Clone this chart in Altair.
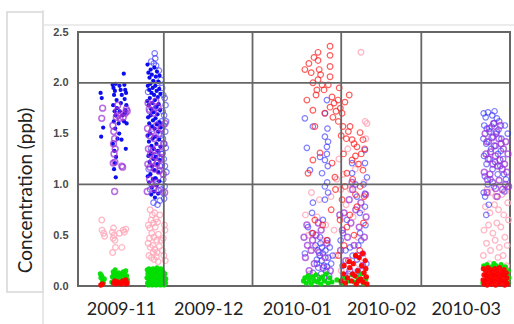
import altair as alt
import pandas as pd

# Sampling campaigns, Nov 2009 - Mar 2010; (day since 2009-11-01, concentration in ppb)
START = pd.Timestamp("2009-11-01")

blue_dot = [
    # early November
    (7.9, 1.90), (8.3, 1.85), (8.8, 1.56), (8.1, 1.47),
    (12.1, 1.98), (12.4, 1.95), (12.6, 1.88), (12.9, 1.92), (13.2, 1.99), (13.5, 1.83),
    (12.3, 1.78), (12.8, 1.72), (13.1, 1.68), (13.6, 1.75), (12.5, 1.62), (13.0, 1.55),
    (12.2, 1.40), (12.7, 1.33), (13.3, 1.27), (12.9, 1.21), (12.6, 1.15), (13.2, 1.07),
    (13.8, 1.45), (14.2, 1.60), (14.5, 1.97), (14.9, 1.93), (15.3, 1.88), (15.0, 1.80),
    (14.6, 1.72), (15.5, 1.68), (14.4, 1.50), (15.2, 1.44), (16.0, 2.09), (16.2, 1.98),
    (16.5, 1.93), (16.8, 1.90), (16.3, 1.84), (16.9, 1.78), (16.6, 1.73), (16.1, 1.62),
    (17.0, 1.60), (16.7, 1.35), (16.4, 1.70),
    # late November
    (24.3, 2.18), (24.6, 2.10), (25.0, 2.05), (25.4, 2.13), (25.8, 2.08), (26.3, 2.02),
    (26.7, 2.15), (27.2, 2.06), (27.6, 2.11), (28.1, 2.01), (28.5, 2.07), (24.4, 1.97),
    (24.9, 1.93), (25.3, 1.99), (25.7, 1.90), (26.1, 1.95), (26.6, 1.88), (27.0, 1.97),
    (27.5, 1.92), (27.9, 1.86), (28.4, 1.94), (28.8, 1.89), (24.2, 1.82), (24.7, 1.78),
    (25.1, 1.85), (25.6, 1.74), (26.0, 1.80), (26.4, 1.71), (26.9, 1.83), (27.3, 1.76),
    (27.8, 1.69), (28.2, 1.79), (28.7, 1.73), (24.5, 1.66), (24.9, 1.60), (25.4, 1.68),
    (25.9, 1.57), (26.2, 1.63), (26.8, 1.55), (27.1, 1.65), (27.6, 1.59), (28.0, 1.52),
    (28.5, 1.61), (28.9, 1.56), (24.3, 1.48), (24.8, 1.42), (25.2, 1.50), (25.7, 1.38),
    (26.1, 1.45), (26.5, 1.35), (27.0, 1.47), (27.4, 1.40), (27.9, 1.33), (28.3, 1.44),
    (28.8, 1.37), (24.6, 1.28), (25.0, 1.22), (25.5, 1.30), (25.9, 1.18), (26.3, 1.25),
    (26.7, 1.14), (27.2, 1.27), (27.7, 1.20), (28.1, 1.12), (28.6, 1.24), (24.4, 1.08),
    (24.9, 1.02), (25.3, 1.10), (25.8, 0.97), (26.2, 1.05), (26.6, 0.93), (27.1, 1.06),
    (27.5, 0.99), (28.0, 0.91), (28.4, 1.03), (26.9, 0.87), (25.6, 0.90),
]

blue_ring = [
    # late November
    (26.8, 2.29), (27.0, 2.24), (26.5, 2.19), (27.3, 2.17), (25.6, 2.21), (28.3, 2.12),
    (29.4, 1.95), (29.8, 1.88), (30.3, 1.85), (30.6, 1.78), (29.6, 1.72), (30.1, 1.68),
    (30.8, 1.62), (29.9, 1.58), (30.5, 1.52), (29.7, 1.45), (30.2, 1.40), (30.7, 1.36),
    (29.5, 1.30), (30.0, 1.25), (30.4, 1.18), (30.9, 1.12), (29.8, 1.05), (30.3, 0.98),
    (29.6, 0.92), (30.1, 0.86), (28.6, 0.84), (27.8, 0.80), (26.4, 0.82), (25.2, 0.95),
    (24.7, 1.15), (25.5, 1.35), (26.0, 1.55), (27.4, 1.75), (28.2, 1.60), (28.9, 1.48),
    (27.6, 1.28), (26.9, 1.05), (28.7, 1.18), (29.2, 1.62), (29.0, 2.03), (27.9, 2.00),
    (25.0, 1.72), (24.5, 1.91), (29.3, 1.30), (29.1, 0.95),
    # January - February
    (79.3, 1.65), (82.1, 1.57), (87.0, 1.83), (86.3, 1.70), (86.3, 1.47), (87.0, 1.37),
    (86.3, 1.24), (80.0, 1.36), (81.1, 1.14), (84.6, 1.27), (85.3, 1.11), (86.3, 0.98),
    (86.3, 0.85), (82.1, 0.82), (81.8, 0.72), (80.4, 0.58), (82.1, 0.52), (85.6, 0.65),
    (84.6, 0.48), (79.3, 0.32), (83.5, 0.26), (85.6, 0.32), (87.0, 0.19), (82.1, 0.13),
    (85.3, 0.38), (95.8, 1.21), (95.8, 1.11), (100.3, 1.34), (100.3, 1.21), (101.0, 1.07),
    (100.3, 0.91), (100.3, 0.78), (94.0, 0.65), (92.6, 0.52), (95.1, 0.38), (98.6, 0.52),
    (99.6, 0.32), (97.5, 0.26), (83.0, 0.40), (83.8, 0.35), (84.5, 0.30), (85.2, 0.25),
    (86.0, 0.20), (86.8, 0.15), (87.5, 0.28), (84.0, 0.18), (85.0, 0.12), (86.5, 0.35),
    (83.5, 0.22), (84.8, 0.42), (86.2, 0.08), (87.8, 0.10), (88.5, 0.22), (88.0, 0.38),
    (87.2, 0.45), (89.0, 0.30), (87.2, 1.55), (87.4, 1.42), (87.0, 1.30), (87.3, 1.18),
    (87.1, 1.02), (87.4, 0.92), (97.0, 1.00), (97.5, 0.88), (99.8, 1.00), (98.5, 0.72),
    (99.0, 0.45), (100.5, 0.60), (96.0, 0.30), (97.8, 0.15), (92.5, 0.20), (93.5, 0.35),
    (94.5, 0.12), (91.8, 0.45), (100.8, 0.22), (98.0, 0.40),
    # late March
    (141.8, 1.70), (142.5, 1.66), (143.3, 1.71), (144.8, 1.68), (145.6, 1.72), (146.4, 1.65),
    (147.2, 1.62), (142.0, 1.58), (142.9, 1.55), (143.8, 1.52), (144.6, 1.57), (145.4, 1.60),
    (146.2, 1.50), (147.0, 1.54), (148.0, 1.45), (141.7, 1.45), (142.7, 1.40), (143.6, 1.42),
    (144.4, 1.35), (145.1, 1.47), (146.0, 1.38), (146.8, 1.30), (147.8, 1.33), (149.2, 1.58),
    (141.9, 1.28), (142.8, 1.20), (143.9, 1.25), (144.9, 1.15), (145.8, 1.22), (146.7, 1.10),
    (147.6, 1.18), (148.6, 1.25), (149.6, 1.05), (142.2, 1.08), (143.2, 1.00), (144.2, 1.05),
    (145.4, 0.98), (141.8, 0.92), (143.6, 0.80), (142.7, 0.70), (142.3, 0.88), (149.0, 0.93),
    (150.2, 1.50), (148.9, 1.10),
]

purple_ring = [
    # early November
    (8.3, 1.65), (8.6, 1.75), (12.2, 1.58), (12.5, 1.52), (12.8, 1.45), (12.4, 1.40),
    (13.0, 1.35), (12.6, 1.30), (13.4, 1.66), (13.7, 1.72), (14.0, 1.68), (12.9, 1.22),
    (12.3, 1.21), (12.8, 0.93), (15.6, 1.17), (15.3, 1.18), (16.5, 1.70), (16.9, 1.74),
    (17.2, 1.72), (14.7, 1.65), (13.9, 1.78), (15.8, 1.66),
    # late November
    (24.5, 1.80), (24.9, 1.74), (25.6, 1.78), (26.4, 1.70), (27.2, 1.82), (28.0, 1.76),
    (24.3, 1.55), (25.1, 1.48), (25.8, 1.52), (26.7, 1.45), (27.5, 1.58), (28.3, 1.50),
    (29.1, 1.55), (24.6, 1.35), (25.4, 1.30), (26.1, 1.33), (26.9, 1.28), (27.7, 1.36),
    (28.6, 1.26), (29.4, 1.32), (24.4, 1.20), (25.2, 1.17), (26.0, 1.23), (26.8, 1.15),
    (27.6, 1.21), (28.4, 1.13), (29.2, 1.19), (25.0, 1.05), (25.9, 1.00), (26.6, 0.96),
    (27.3, 1.02), (28.1, 0.94), (29.8, 1.10), (30.3, 0.92), (29.9, 1.40), (30.4, 1.60),
    (24.2, 0.93),
    # January - February
    (79.0, 0.48), (79.5, 0.28), (80.2, 0.40), (80.8, 0.15), (81.5, 0.35), (82.0, 0.45),
    (82.6, 0.22), (83.2, 0.50), (83.8, 0.08), (84.3, 0.33), (85.0, 0.55), (85.7, 0.18),
    (86.4, 0.28), (87.0, 0.42), (87.6, 0.05), (88.2, 0.15), (80.0, 0.60), (84.0, 0.62),
    (91.8, 0.35), (92.4, 0.55), (93.0, 0.72), (93.6, 0.25), (94.2, 0.48), (94.8, 0.85),
    (95.4, 0.62), (95.8, 1.02), (96.0, 0.95), (96.5, 0.40), (97.1, 0.75), (97.7, 0.30),
    (98.3, 0.58), (98.9, 0.82), (99.5, 0.20), (100.1, 0.48), (100.7, 0.68), (95.0, 0.15),
    (93.2, 0.10), (99.0, 0.10), (91.5, 0.70), (100.5, 0.90),
    # late March
    (142.3, 1.50), (143.0, 1.42), (143.8, 1.55), (144.7, 1.46), (145.5, 1.38), (146.3, 1.52),
    (147.1, 1.45), (147.9, 1.40), (148.7, 1.35), (149.5, 1.42), (150.3, 1.30), (142.6, 1.30),
    (143.4, 1.25), (144.2, 1.32), (145.0, 1.20), (145.9, 1.28), (146.7, 1.18), (147.5, 1.24),
    (148.3, 1.15), (149.1, 1.20), (149.9, 1.12), (142.0, 1.12), (143.1, 1.05), (144.0, 1.10),
    (144.9, 1.02), (146.0, 0.96), (147.2, 1.04), (148.4, 0.95), (149.4, 1.00), (150.5, 0.98),
    (145.3, 1.60), (147.7, 1.58), (143.0, 0.92), (146.5, 0.88),
]

red_ring = [
    (79.3, 2.13), (80.7, 2.19), (82.1, 2.00), (83.9, 2.30), (83.9, 2.22), (84.3, 2.13),
    (83.9, 2.03), (83.5, 1.93), (88.1, 2.36), (88.1, 2.27), (88.1, 2.16), (88.1, 2.06),
    (88.8, 1.86), (88.1, 1.76), (89.1, 1.66), (90.9, 1.83), (92.3, 1.70), (92.6, 1.57),
    (93.3, 1.81), (95.1, 1.57), (95.8, 1.44), (97.5, 1.37), (98.6, 1.51), (99.6, 1.44),
    (95.8, 1.24), (94.0, 1.11), (93.3, 0.98), (92.3, 0.85), (91.6, 0.65), (94.0, 0.58),
    (97.5, 0.78), (98.6, 0.98), (99.6, 1.14), (80.0, 1.83), (82.1, 1.73), (82.8, 1.57),
    (86.3, 1.70), (84.6, 1.31), (82.1, 1.24), (80.4, 1.11), (82.8, 0.65), (81.8, 0.52),
    (88.8, 1.21), (89.8, 1.07), (81.5, 2.10), (82.5, 2.25), (84.8, 2.08), (85.3, 1.98),
    (83.2, 1.88), (86.0, 1.93), (87.5, 1.98), (89.5, 1.80), (90.2, 1.72), (91.0, 1.62),
    (91.7, 1.75), (92.0, 1.48), (93.8, 1.45), (94.5, 1.52), (96.5, 1.40), (97.0, 1.28),
    (98.0, 1.20), (96.0, 1.05), (99.0, 1.30), (100.2, 1.35), (100.0, 0.88), (97.0, 0.90),
    (95.0, 0.70), (93.0, 0.40), (96.5, 0.50), (98.5, 0.35), (99.8, 0.62), (94.5, 0.25),
    (91.0, 0.30), (90.0, 0.95), (88.5, 0.75), (87.0, 0.45), (85.5, 0.60), (92.8, 1.30),
    (94.8, 1.88), (91.3, 1.95),
]

pink_ring = [
    # early November
    (8.3, 0.65), (8.4, 0.55), (9.0, 0.52), (9.3, 0.49), (12.0, 0.53), (12.4, 0.57),
    (12.6, 0.50), (12.9, 0.45), (12.3, 0.47), (12.1, 0.33), (13.1, 0.38), (14.5, 0.52),
    (15.3, 0.38), (16.2, 0.53), (16.7, 0.56), (15.8, 0.55),
    # late November
    (25.2, 0.75), (26.0, 0.70), (26.8, 0.72), (25.6, 0.65), (26.4, 0.62), (27.3, 0.66),
    (24.6, 0.60), (25.1, 0.57), (27.0, 0.58), (27.8, 0.63), (30.2, 0.60), (25.8, 0.52),
    (26.5, 0.48), (27.5, 0.45), (28.1, 0.51), (29.8, 0.47), (30.4, 0.55), (24.5, 0.42),
    (25.3, 0.38), (26.1, 0.40), (26.9, 0.36), (27.6, 0.33), (28.4, 0.39), (24.8, 0.30),
    (25.7, 0.28), (26.6, 0.26), (27.4, 0.29), (28.0, 0.24), (29.5, 0.35), (30.0, 0.30),
    (30.5, 0.25), (26.3, 0.33), (25.0, 0.47), (28.6, 0.70), (29.0, 0.45),
    # January - February
    (79.5, 0.70), (80.5, 0.50), (81.6, 0.92), (82.5, 0.38), (83.6, 0.68), (84.4, 0.85),
    (85.4, 0.45), (86.6, 0.60), (88.4, 0.88), (89.5, 0.55), (90.4, 1.05), (91.2, 1.25),
    (91.9, 0.95), (92.7, 1.10), (93.7, 0.80), (94.3, 1.35), (95.2, 0.95), (96.2, 0.68),
    (96.9, 1.15), (97.8, 0.48), (98.4, 1.20), (99.2, 0.75), (100.0, 1.02), (100.6, 1.45),
    (101.0, 1.60), (100.4, 1.62), (99.6, 0.28), (98.0, 0.22), (92.0, 0.15), (90.0, 0.30),
    (86.0, 0.08), (81.0, 0.12), (98.9, 2.30),
    # late March
    (143.0, 0.95), (144.5, 0.92), (146.0, 0.88), (148.2, 0.90), (149.5, 0.93), (142.4, 0.78),
    (144.0, 0.72), (145.6, 0.80), (147.0, 0.75), (148.8, 0.70), (150.2, 0.82), (141.9, 0.55),
    (143.5, 0.60), (145.0, 0.52), (146.4, 0.62), (147.8, 0.58), (149.2, 0.48), (150.5, 0.65),
    (142.8, 0.42), (144.2, 0.35), (145.8, 0.45), (147.3, 0.38), (148.6, 0.30), (150.0, 0.40),
    (143.8, 0.22), (146.8, 0.28), (149.8, 0.20), (141.7, 0.30), (145.2, 0.18),
]

green_dot = [
    # early November
    (7.8, 0.12), (8.0, 0.08), (8.3, 0.10), (8.6, 0.05), (8.9, 0.03), (9.2, 0.07),
    (11.8, 0.04), (12.0, 0.09), (12.3, 0.14), (12.5, 0.11), (12.8, 0.07), (13.0, 0.16),
    (13.3, 0.12), (13.6, 0.05), (13.9, 0.09), (14.2, 0.13), (14.6, 0.10), (15.0, 0.06),
    (15.4, 0.12), (15.8, 0.14), (16.1, 0.08), (16.4, 0.11), (16.7, 0.15), (17.0, 0.10),
    (17.3, 0.06), (14.0, 0.03), (15.6, 0.04),
    # late November
    (24.2, 0.16), (24.8, 0.17), (25.5, 0.15), (26.2, 0.17), (26.9, 0.16), (27.6, 0.18),
    (28.3, 0.15), (29.0, 0.17), (29.7, 0.14), (30.4, 0.12), (24.4, 0.12), (25.1, 0.13),
    (25.8, 0.11), (26.5, 0.13), (27.2, 0.12), (27.9, 0.14), (28.6, 0.11), (29.3, 0.12),
    (30.0, 0.09), (30.7, 0.07), (24.1, 0.08), (24.7, 0.07), (25.4, 0.09), (26.1, 0.06),
    (26.8, 0.08), (27.5, 0.07), (28.2, 0.09), (28.9, 0.06), (29.6, 0.08), (30.3, 0.05),
    (24.3, 0.03), (25.0, 0.04), (25.7, 0.02), (26.4, 0.04), (27.1, 0.03), (27.8, 0.02),
    (28.5, 0.04), (29.2, 0.03), (29.9, 0.02), (30.6, 0.03), (24.6, 0.01), (25.9, 0.01),
    (27.3, 0.01), (28.8, 0.01), (30.1, 0.01),
    # January - February
    (78.8, 0.05), (79.3, 0.08), (79.8, 0.03), (80.4, 0.10), (80.9, 0.06), (81.5, 0.02),
    (82.0, 0.09), (82.6, 0.05), (83.2, 0.11), (83.7, 0.04), (84.3, 0.07), (84.9, 0.02),
    (85.5, 0.09), (86.1, 0.05), (86.8, 0.12), (87.4, 0.03), (88.0, 0.08), (88.8, 0.04),
    (90.5, 0.06), (92.0, 0.03), (93.2, 0.08), (94.5, 0.05), (95.8, 0.11), (96.6, 0.04),
    (97.4, 0.09), (98.2, 0.06), (99.0, 0.12), (99.8, 0.03), (100.6, 0.07),
    # late March
    (141.8, 0.20), (143.0, 0.21), (144.6, 0.19), (146.2, 0.20), (147.9, 0.21), (149.4, 0.19),
    (150.4, 0.15), (150.6, 0.08), (150.3, 0.03), (141.5, 0.03), (142.2, 0.19), (145.4, 0.22),
    (148.6, 0.18), (150.0, 0.11),
]

red_dot = [
    # early November
    (8.0, 0.01), (8.5, 0.02), (12.4, 0.03), (12.9, 0.05), (13.3, 0.02), (13.8, 0.04),
    (14.3, 0.03), (15.1, 0.02), (15.6, 0.05), (16.2, 0.04), (16.7, 0.06), (17.2, 0.03),
    (16.9, 0.02),
    # January - February
    (92.0, 0.05), (92.8, 0.12), (93.5, 0.03), (94.2, 0.08), (95.0, 0.18), (95.6, 0.05),
    (96.2, 0.22), (96.8, 0.10), (97.3, 0.02), (97.8, 0.15), (98.3, 0.28), (98.8, 0.07),
    (99.2, 0.20), (99.6, 0.04), (100.0, 0.13), (100.4, 0.25), (100.8, 0.09), (101.0, 0.02),
    (97.0, 0.30), (99.5, 0.32), (98.0, 0.05), (96.0, 0.12), (100.6, 0.17), (94.8, 0.24),
    (93.0, 0.20),
    # late March
    (141.7, 0.17), (142.5, 0.15), (143.3, 0.18), (144.1, 0.16), (144.9, 0.14), (145.7, 0.17),
    (146.5, 0.15), (147.3, 0.18), (148.1, 0.14), (148.9, 0.16), (149.7, 0.13), (141.9, 0.11),
    (142.7, 0.10), (143.5, 0.12), (144.3, 0.09), (145.1, 0.11), (145.9, 0.10), (146.7, 0.12),
    (147.5, 0.09), (148.3, 0.11), (149.1, 0.10), (149.9, 0.08), (141.6, 0.06), (142.4, 0.05),
    (143.2, 0.07), (144.0, 0.04), (144.8, 0.06), (145.6, 0.05), (146.4, 0.07), (147.2, 0.04),
    (148.0, 0.06), (148.8, 0.05), (149.6, 0.04), (142.0, 0.02), (143.0, 0.01), (144.5, 0.02),
    (146.0, 0.01), (147.6, 0.02), (149.2, 0.01), (150.1, 0.02),
]

# month boundaries drawn as grid, labels sit in the middle of each month
month_starts = ["2009-12-01", "2010-01-01", "2010-02-01", "2010-03-01"]
y_grid = [1.0, 2.0]
y_ticks = [0.0, 0.5, 1.0, 1.5, 2.0, 2.5]
label_dates = [
    alt.DateTime(year=2009, month=11, date=16),
    alt.DateTime(year=2009, month=12, date=16, hours=12),
    alt.DateTime(year=2010, month=1, date=16, hours=12),
    alt.DateTime(year=2010, month=2, date=15),
    alt.DateTime(year=2010, month=3, date=16, hours=12),
]

FONT = "Lato"
GRID = "#666666"


def frame(pairs):
    days = [p[0] for p in pairs]
    vals = [p[1] for p in pairs]
    return pd.DataFrame({"t": START + pd.to_timedelta(days, unit="D"), "ppb": vals})


x_scale = alt.Scale(domain=[alt.DateTime(year=2009, month=11, date=1),
                            alt.DateTime(year=2010, month=4, date=1)])
y_scale = alt.Scale(domain=[0, 2.5], nice=False)

# one shared definition per axis, used by every layer so they merge cleanly
X = alt.X("t:T", scale=x_scale, title=None,
          axis=alt.Axis(values=label_dates, format="%Y-%m", grid=False, ticks=False,
                        domain=False, labelFont=FONT, labelFontSize=18,
                        labelColor="#222222", labelPadding=14, labelFlush=False))
Y = alt.Y("ppb:Q", scale=y_scale, title="Concentration (ppb)",
          axis=alt.Axis(values=y_ticks, format=".1f", grid=False, ticks=False,
                        domain=False, labelFont="Liberation Sans", labelFontSize=11,
                        labelFontWeight="bold", labelColor="#4a4a4a", labelPadding=10,
                        titleFont=FONT, titleFontSize=19, titleFontWeight="normal",
                        titleColor="#222222", titleAngle=-90, titleX=-47, titleY=158,
                        titleBaseline="alphabetic"))


def points(pairs, color, size, filled, opacity, stroke_width=1.0):
    if filled:
        mark = alt.MarkDef(type="circle", color=color, size=size, opacity=opacity)
    else:
        mark = alt.MarkDef(type="point", shape="circle", filled=False, color=color, size=size,
                           opacity=opacity, strokeWidth=stroke_width)
    return alt.Chart(frame(pairs), mark=mark).encode(x=X, y=Y)


layers = [
    points(pink_ring, "#ffaabb", 32, False, 0.85, 1.3),
    points(blue_ring, "#2a2aff", 30, False, 0.6, 1.2),
    points(blue_dot, "#0000ee", 18, True, 0.95),
    points(purple_ring, "#9a2fd6", 34, False, 0.7, 1.5),
    points(red_ring, "#ff1a1a", 32, False, 0.7, 1.2),
    points(green_dot, "#00dd00", 26, True, 0.95),
    points(red_dot, "#ff0000", 28, True, 0.95),
]

vgrid = alt.Chart(pd.DataFrame({"t": pd.to_datetime(month_starts)})).mark_rule(
    color=GRID, strokeWidth=1.8).encode(x=X)
hgrid = alt.Chart(pd.DataFrame({"ppb": y_grid})).mark_rule(
    color=GRID, strokeWidth=1.8).encode(y=Y)

# light page frame and the box around the y-axis title
one = pd.DataFrame({"k": [0]})
title_box = alt.Chart(one).mark_rect(fillOpacity=0, stroke="#d6d6d6", strokeWidth=1.5).encode(
    x=alt.value(-71), x2=alt.value(-35), y=alt.value(-20), y2=alt.value(260))
frame_v = alt.Chart(one).mark_rule(color="#e0e0e0", strokeWidth=1.5).encode(
    x=alt.value(-35), y=alt.value(-22), y2=alt.value(292))
frame_h = alt.Chart(one).mark_rule(color="#e6e6e6", strokeWidth=1.5).encode(
    y=alt.value(-7), x=alt.value(-35), x2=alt.value(436))

chart = alt.layer(*layers, vgrid, hgrid, title_box, frame_v, frame_h).properties(
    width=432, height=254,
    padding={"left": 78, "top": 32, "right": 4, "bottom": 38},
    autosize=alt.AutoSizeParams(type="none"),
    background="white",
).configure_view(stroke=GRID, strokeWidth=2)

chart.save("out.html", embed_options={"renderer": "svg", "actions": False})
